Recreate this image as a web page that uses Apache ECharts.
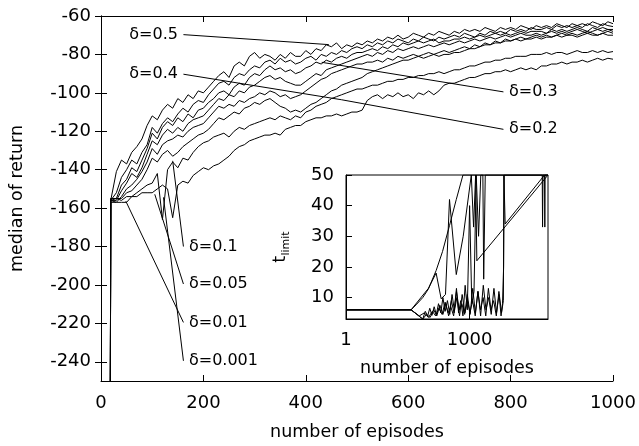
<!DOCTYPE html>
<html><head><meta charset="utf-8">
<script src="https://cdn.jsdelivr.net/npm/echarts@6/dist/echarts.min.js"></script>
<style>html,body{margin:0;padding:0;background:#fff}#c{width:639px;height:446px}</style>
</head><body><div id="c"></div>
<script>
const episodes = [0,18,19,
 30,40,50,60,70,80,90,100,110,120,
 130,140,150,160,170,180,190,200,210,220,
 230,240,250,260,270,280,290,300,310,320,
 330,340,350,360,370,380,390,400,410,420,
 430,440,450,460,470,480,490,500,510,520,
 530,540,550,560,570,580,590,600,610,620,
 630,640,650,660,670,680,690,700,710,720,
 730,740,750,760,770,780,790,800,810,820,
 830,840,850,860,870,880,890,900,910,920,
 930,940,950,960,970,980,990,1000];

const curveA = [-300,-300,-156,
 -141,-135,-137,-131,-128,-124,-117,-112,-114,-109,
 -106,-108,-103,-105,-101,-103,-99,-100,-97,-94,
 -91,-89,-92,-86,-84,-86,-81,-79,-82,-80,
 -81,-83,-80,-82,-79,-81,-81,-78,-80,-77,
 -78,-75,-76,-74,-77,-75,-76,-74,-75,-73,
 -74,-72,-73,-71,-72,-70,-72,-71,-69,-70,
 -71,-69,-70,-68,-69,-70,-68,-69,-67,-68,
 -67,-68,-66,-67,-68,-66,-67,-66,-67,-65,
 -66,-67,-65,-66,-65,-66,-64,-65,-66,-64,
 -65,-64,-65,-63,-64,-65,-63,-64];
const curveB = [-300,-300,-156,
 -152,-144,-140,-135,-137,-131,-127,-118,-121,-116,
 -113,-115,-111,-108,-110,-106,-104,-105,-101,-98,
 -95,-94,-96,-92,-90,-91,-88,-86,-87,-84,
 -83,-85,-82,-84,-83,-85,-84,-82,-81,-83,
 -80,-81,-79,-80,-78,-79,-77,-76,-77,-75,
 -76,-74,-75,-73,-74,-72,-73,-74,-72,-73,
 -71,-72,-73,-71,-72,-71,-70,-71,-69,-70,
 -71,-69,-70,-68,-69,-68,-69,-67,-68,-67,
 -68,-66,-67,-67,-66,-67,-65,-66,-65,-66,
 -65,-66,-64,-65,-66,-64,-65,-65.5];
const curveC = [-300,-300,-155,
 -155,-148,-145,-139,-141,-135,-129,-121,-124,-118,
 -115,-117,-113,-115,-111,-113,-109,-108,-105,-103,
 -100,-99,-101,-97,-95,-96,-92,-90,-91,-88,
 -86,-88,-87,-89,-88,-90,-89,-87,-86,-84,
 -85,-83,-84,-82,-81,-82,-80,-79,-79,-78,
 -77,-78,-76,-77,-75,-76,-74,-75,-74,-73,
 -74,-73,-72,-74,-73,-73,-72,-72,-71,-72,
 -71,-70,-71,-70,-69,-70,-69,-70,-69,-68,
 -69,-68,-68,-68,-69,-67,-68,-67,-68,-67,
 -66,-67,-68,-66,-67,-66,-67,-67];
const curveD = [-300,-300,-156,
 -156,-151,-147,-142,-144,-139,-132,-125,-127,-122,
 -119,-121,-118,-120,-116,-114,-113,-112,-109,-106,
 -103,-104,-101,-102,-99,-100,-97,-96,-94,-92,
 -91,-93,-92,-94,-95,-96,-96,-94,-92,-90,
 -91,-88,-87,-86,-85,-84,-83,-82,-81,-80,
 -81,-79,-80,-78,-79,-77,-78,-77,-76,-77,
 -76,-75,-76,-75,-74,-75,-74,-73,-74,-73,
 -72,-73,-72,-71,-72,-71,-70,-71,-70,-69,
 -70,-70,-69,-70,-69,-68,-69,-68,-69,-68,
 -67,-68,-69,-68,-67,-68,-67,-68];
const curveE = [-300,-300,-157,
 -157,-154,-150,-148,-145,-141,-136,-129,-132,-127,
 -125,-124,-122,-123,-120,-118,-117,-116,-113,-110,
 -107,-108,-106,-107,-104,-105,-103,-102,-100,-101,
 -99,-100,-102,-101,-103,-102,-101,-99,-97,-95,
 -93,-92,-90,-89,-88,-87,-86,-85,-85,-84,
 -84,-83,-84,-82,-83,-81,-82,-81,-80,-81,
 -80,-79,-80,-79,-78,-79,-78,-77,-76,-77,
 -75,-76,-74,-75,-73,-74,-72,-73,-72,-71,
 -72,-71,-70,-71,-70,-71,-70,-69,-70,-69,
 -70,-69,-68,-69,-70,-69,-68,-69];
const curveF = [-300,-300,-156,
 -155,-155,-152,-151,-148,-145,-140,-134,-136,-132,
 -130,-133,-131,-128,-126,-124,-122,-121,-119,-116,
 -113,-114,-112,-110,-111,-108,-107,-105,-106,-104,
 -103,-105,-107,-108,-110,-109,-110,-108,-106,-105,
 -103,-101,-99,-98,-96,-95,-94,-93,-92,-90,
 -89,-88,-87,-86,-85,-84,-83,-83,-82,-81,
 -82,-81,-80,-81,-80,-80,-79,-79,-78,-77,
 -77,-76,-75,-75,-74,-74,-73,-73,-72,-73,
 -72,-72,-71,-72,-71,-71,-70,-71,-70,-70,
 -71,-70,-69,-70,-70,-69,-70,-70];
const curveG = [-300,-300,-155,
 -155,-156,-154,-154,-152,-150,-148,-147,-142,-166,
 -140,-136,-139,-134,-135,-131,-128,-126,-125,-123,
 -122,-121,-123,-120,-118,-119,-117,-116,-115,-114,
 -113,-114,-112,-113,-114,-112,-113,-110,-109,-107,
 -106,-105,-103,-102,-101,-100,-99,-98,-98,-97,
 -96,-96,-95,-94,-94,-93,-93,-92,-92,-91,
 -91,-90,-90,-89,-90,-89,-88,-88,-87,-86,
 -86,-85,-84,-84,-83,-83,-82,-82,-81,-81,
 -81,-80,-80,-80,-79,-80,-79,-79,-80,-79,
 -78,-79,-79,-78,-79,-78,-79,-78.5];
const curveH = [-300,-300,-156,
 -157,-157,-157,-154,-154,-152,-152,-152,-150,-148,
 -150,-165,-148,-146,-147,-143,-141,-139,-140,-138,
 -137,-135,-133,-130,-128,-127,-125,-124,-123,-122,
 -122,-121,-122,-119,-118,-117,-117,-115,-114,-113,
 -113,-112,-112,-111,-112,-111,-110,-110,-109,-104,
 -102,-101,-103,-101,-102,-100,-102,-101,-103,-100,
 -101,-99,-101,-99,-96,-95,-95,-94,-93,-92,
 -92,-91,-90,-90,-89,-89,-88,-89,-88,-87,
 -88,-87,-88,-86,-86,-85,-85,-84,-85,-84,
 -84,-83,-84,-83,-82,-83,-82,-82.5];
const mainCurves = [curveA, curveB, curveC, curveD, curveE, curveF, curveG, curveH];

const xTicks = [0,200,400,600,800,1000];
const yTicks = [-240,-220,-200,-180,-160,-140,-120,-100,-80,-60];

const labelTexts = ['δ=0.5','δ=0.4','δ=0.3','δ=0.2','δ=0.1','δ=0.05','δ=0.01','δ=0.001'];
const labelSide = ['left','left','right','right','right','right','right','right'];
const pointerFromX = [161,161,786,786,161,161,161,161];
const pointerFromY = [-69.7,-90.3,-99.5,-119,-180,-199.5,-219.5,-239.5];
const pointerToX = [445,470,431,470,140,105,48.5,122];
const pointerToY = [-74.9,-103.6,-84.1,-103.6,-135.4,-152.8,-156.4,-154.4];

// inset: t_limit vs episodes (log x)
const insetX1 = [1,38,50,73,100,154,220,325,475,690,80000];
const insetY1 = [6,6,7.6,10,12.8,18.8,25,33.5,42,50,50];
const insetX2 = [1,38,100,154,204,260,325,475,700,1100,1180,1250,1400,1450,1500,80000];
const insetY2 = [6,6,13,18,9.6,11,42,17.5,30,50,50,33,50,50,22,50];
const insetX3 = [1,38,73,84,96,108,122,138,156,176,200,225,255,290,330,375,425,480,540,610,690,780,880,1000,1130,1280,1450,1650,1870,2100,2200,2400,2600,80000];
const insetY3 = [6,6,3,5.5,4,6.5,4.2,7,4.5,8,5,10,5.5,9,4.5,11,6,13,5,9,4,14,6,40,8,12,50,30,50,50,16,50,50,50];
const insetX4 = [1,38,73,90,110,135,160,190,225,265,310,360,420,490,570,660,770,890,1030,1190,1380,1600,1850,2150,2500,2900,3350,3900,4500,5200,5800,6300,6700,6900,7000,58000,59000,60500,62000,80000];
const insetY4 = [6,6,3,4.5,3.5,6,4,7.5,4.5,8,4,9,5,10,4,11,5,9,4.5,13,5,12,4,14,6,10,4.5,13,5,11,4,8,20,50,50,50,33,50,50,50];
const insetX5 = [1,38,60,80,100,125,150,180,215,255,300,350,410,480,560,650,760,880,1020,1180,1370,1590,1840,2130,2470,2860,3310,3840,4450,5150,5960,6600,6800,7100,7300,66000,67000,68000,80000];
const insetY5 = [6,6,4,5,3.5,5.5,4,6.5,4.5,8.5,5,7,4,12,6,8,4.5,11,5,9,4,12,6,10,4,13,6,9,4,12,5,9,50,50,34,50,33,50,50];
const insetXs = [insetX1, insetX2, insetX3, insetX4, insetX5];
const insetYs = [insetY1, insetY2, insetY3, insetY4, insetY5];
const insetYTicks = [10,20,30,40,50];

const FONT = 'DejaVu Sans';
const txt = (s) => ({ color: '#000', fontFamily: FONT, fontSize: s });
const lineStyle = { color: '#000', width: 1 };

const series = mainCurves.map((ys, k) => ({
  type: 'line', xAxisIndex: 0, yAxisIndex: 0, symbol: 'none', clip: true,
  lineStyle, data: episodes.map((e, i) => [e, ys[i]]), z: 2
}));
series[0].markLine = {
  silent: true, symbol: ['none', 'none'], label: { show: false },
  lineStyle: { color: '#000', width: 1, type: 'solid' },
  data: labelTexts.map((t, i) => [{ coord: [pointerFromX[i], pointerFromY[i]] }, { coord: [pointerToX[i], pointerToY[i]] }])
};
series[0].markPoint = {
  silent: true, symbol: 'circle', symbolSize: 1, itemStyle: { color: 'rgba(0,0,0,0)' },
  data: labelTexts.map((t, i) => ({
    coord: [pointerFromX[i], pointerFromY[i]],
    label: { show: true, position: labelSide[i], distance: 5, formatter: t, ...txt(16) }
  }))
};
insetXs.forEach((xs, k) => {
  series.push({
    type: 'line', xAxisIndex: 2, yAxisIndex: 2, symbol: 'none', clip: true,
    lineStyle, data: xs.map((x, i) => [x, insetYs[k][i]]), z: 3
  });
});

const axisBase = {
  axisLine: { show: true, lineStyle: { color: '#000', width: 1 } },
  splitLine: { show: false },
  axisTick: { show: true, inside: true, length: 6, lineStyle: { color: '#000' } }
};
const plain = (v) => String(Math.round(v));

const chart = echarts.init(document.getElementById('c'), null, { renderer: 'canvas' });
chart.setOption({
  animation: false,
  backgroundColor: '#fff',
  grid: [
    { left: 98, top: 16, width: 515, height: 371 },
    { left: 346, top: 175, width: 202, height: 144, show: true, backgroundColor: '#fff', borderColor: '#000', borderWidth: 1 }
  ],
  xAxis: [
    { ...axisBase, gridIndex: 0, type: 'value', min: 0, max: 1000, interval: 200, position: 'bottom',
      axisLabel: { margin: 13, ...txt(18), formatter: plain },
      name: 'number of episodes', nameLocation: 'middle', nameGap: 42, nameTextStyle: txt(17.5) },
    { ...axisBase, gridIndex: 0, type: 'value', min: 0, max: 1000, interval: 200, position: 'top',
      axisLabel: { show: false } },
    { ...axisBase, gridIndex: 1, type: 'log', logBase: 1000, min: 1, max: 80000, position: 'bottom',
      axisLabel: { margin: 12, showMaxLabel: false, ...txt(18), formatter: plain },
      name: 'number of episodes', nameLocation: 'middle', nameGap: 40, nameTextStyle: txt(17.5) }
  ],
  yAxis: [
    { ...axisBase, gridIndex: 0, type: 'value', min: -250, max: -60, position: 'left',
      axisTick: { ...axisBase.axisTick, customValues: yTicks },
      axisLabel: { margin: 10, customValues: yTicks, ...txt(18) },
      name: 'median of return', nameLocation: 'middle', nameGap: 75, nameRotate: 90, nameTextStyle: txt(17.5) },
    { ...axisBase, gridIndex: 0, type: 'value', min: -250, max: -60, position: 'right',
      axisTick: { ...axisBase.axisTick, customValues: yTicks },
      axisLabel: { show: false } },
    { ...axisBase, gridIndex: 1, type: 'value', min: 3, max: 50, position: 'left',
      axisTick: { ...axisBase.axisTick, customValues: insetYTicks },
      axisLabel: { margin: 12, customValues: insetYTicks, ...txt(18) },
      name: '{t|t}{s|limit}', nameLocation: 'middle', nameGap: 54, nameRotate: 90,
      nameTextStyle: { rich: {
        t: { fontSize: 18, fontFamily: FONT, color: '#000', lineHeight: 24, verticalAlign: 'middle' },
        s: { fontSize: 11, fontFamily: FONT, color: '#000', lineHeight: 24, verticalAlign: 'bottom' }
      } } }
  ],
  series
});
</script>
</body></html>
